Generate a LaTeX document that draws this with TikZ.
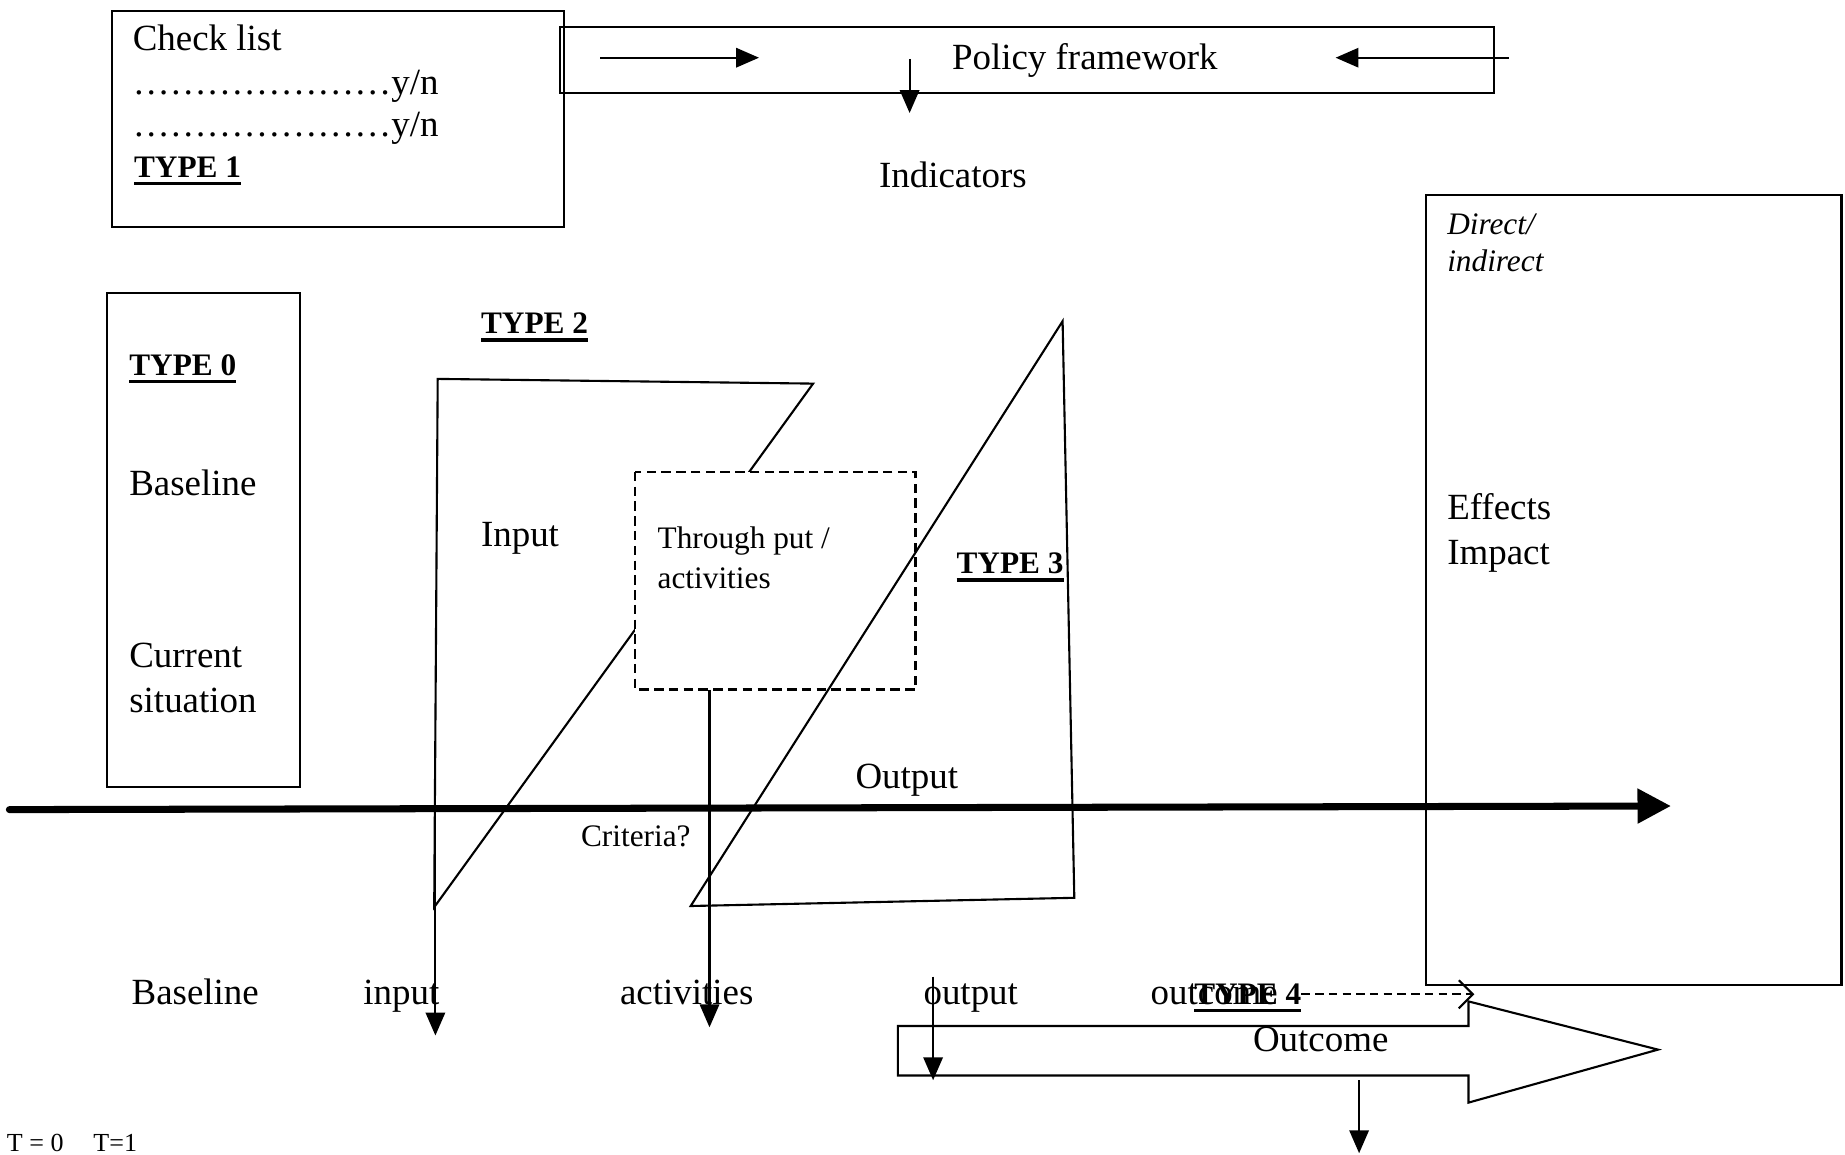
\documentclass[tikz,border=0pt]{standalone}
\usepackage{fontspec}
\setmainfont{Liberation Serif}
\usetikzlibrary{arrows.meta}
\newcommand\fmain{\fontsize{10.5}{12.7}\selectfont}
\newcommand\fsml{\fontsize{8.9}{10.5}\selectfont}
\newcommand\ftny{\fontsize{7.4}{9}\selectfont}
\newcommand\typelab[1]{\setbox0\hbox{\bfseries #1}\leavevmode\rlap{\rule[-2.4pt]{\wd0}{1.1pt}}\box0}
\begin{document}
\begin{tikzpicture}[x=0.01cm,y=-0.01cm,
  line width=0.6pt,
  box/.style={draw, line width=0.6pt},
  lbl/.style={inner sep=0pt, anchor=base west, font=\fmain},
  slbl/.style={inner sep=0pt, anchor=base west, font=\fsml},
  ilbl/.style={inner sep=0pt, anchor=base west, font=\fsml\itshape},
  tlbl/.style={inner sep=0pt, anchor=base west, font=\fsml},
  arr/.style={-{Triangle[length=6.5pt,width=5.5pt]}, line width=0.6pt},
  bigarr/.style={-{Triangle[length=9.5pt,width=9.5pt]}, line width=2pt, line cap=round},
  dasharr/.style={-{Straight Barb[length=4pt,width=8pt]}, line width=0.6pt, dash pattern=on 2.4pt off 1.5pt},
  dbox/.style={draw, fill=white, line width=0.6pt, dash pattern=on 2.7pt off 1.5pt}]
\useasboundingbox (0,0) rectangle (1845,1154);

% coordinates
\coordinate (cl1) at (111.8,10.6);   \coordinate (cl2) at (563.6,227.1);
\coordinate (pf1) at (560.1,27.1);   \coordinate (pf2) at (1494.4,93);
\coordinate (t01) at (107.1,293);    \coordinate (t02) at (300,787.2);
\coordinate (ef1) at (1426.2,195.3); \coordinate (ef2) at (1841.5,984.9);
\coordinate (db1) at (635.4,471.9);  \coordinate (db2) at (915.5,689.5);
\coordinate (p2a) at (437.7,378.9);  \coordinate (p2b) at (813.1,383.6);  \coordinate (p2c) at (434.2,907.2);
\coordinate (p3a) at (1062.6,321.2); \coordinate (p3b) at (1074.3,897.8); \coordinate (p3c) at (690.7,906);
\coordinate (ml1) at (9.4,809.6);    \coordinate (ml2) at (1670.9,806);
\coordinate (ra1) at (600.1,57.7);   \coordinate (ra2) at (759,57.7);
\coordinate (la1) at (1508.5,57.7);  \coordinate (la2) at (1335.6,57.7);
\coordinate (da1) at (909.6,58.8);   \coordinate (da2) at (909.6,113);
\coordinate (ia1) at (435.4,795.5);  \coordinate (ia2) at (435.4,1035.5);
\coordinate (aa2) at (709.5,1027.3);
\coordinate (oa1) at (933.1,976.7);  \coordinate (oa2) at (933.1,1080.2);
\coordinate (ua1) at (1359.1,1080.2);\coordinate (ua2) at (1359.1,1153.2);
\coordinate (dd1) at (1301.4,994.3); \coordinate (dd2) at (1474.4,994.3);

% boxes
\draw[box] (cl1) rectangle (cl2);
\draw[box] (pf1) rectangle (pf2);
\draw[box] (t01) rectangle (t02);
\draw[box] (ef1) rectangle (ef2);

% type 2 shape, through-put box, type 3 shape
\draw[line width=0.6pt, line join=miter] (p2a) -- (p2b) -- (p2c) -- cycle;
\draw[dbox] (db1) rectangle (db2);
\draw[line width=0.6pt, line join=miter] (p3a) -- (p3b) -- (p3c) -- cycle;

% main time line
\draw[bigarr] (ml1) -- (ml2);

% arrows
\draw[arr] (ra1) -- (ra2);
\draw[arr] (la1) -- (la2);
\draw[arr] (da1) -- (da2);
\draw[arr] (ia1) -- (ia2);
\draw[arr] (db2 -| aa2) -- (aa2);
\draw[arr] (oa1) -- (oa2);
\draw[arr] (ua1) -- (ua2);
\draw[dasharr] (dd1) -- (dd2);

% outcome block arrow
\draw[line width=0.6pt, line join=miter] (897.8,1026) -- (1468.5,1026) -- (1468.5,1001.4) -- (1658,1049.6)
  -- (1468.5,1102.6) -- (1468.5,1075.5) -- (897.8,1075.5) -- cycle;

% texts
\node[lbl] (t_check) at (131.8,50.8) {Check list};
\node[lbl] (t_yn1) at (131.8,94) {…………………y/n};
\node[lbl] (t_yn2) at (131.8,136) {…………………y/n};
\node[tlbl] (t_type1) at (133,177) {\typelab{TYPE 1}};
\node[lbl] (t_policy) at (951,69.5) {Policy framework};
\node[lbl] (t_ind) at (878,187) {Indicators};
\node[tlbl] (t_type0) at (128.3,375) {\typelab{TYPE 0}};
\node[lbl] (t_base0) at (128.3,495.6) {Baseline};
\node[lbl] (t_cur) at (128.3,667.4) {Current};
\node[lbl] (t_sit) at (128.3,712) {situation};
\node[tlbl] (t_type2) at (480,333.6) {\typelab{TYPE 2}};
\node[lbl] (t_input) at (480,546) {Input};
\node[slbl] (t_thr) at (656.6,548) {Through put /};
\node[slbl] (t_act) at (656.6,588) {activities};
\node[tlbl] (t_type3) at (955.5,573.6) {\typelab{TYPE 3}};
\node[ilbl] (t_dir) at (1446.2,234.7) {Direct/};
\node[ilbl] (t_indir) at (1446.2,271) {indirect};
\node[lbl] (t_eff) at (1446.2,519) {Effects};
\node[lbl] (t_imp) at (1446.2,564) {Impact};
\node[lbl] (t_output) at (854.5,788.6) {Output};
\node[slbl] (t_crit) at (580,846.6) {Criteria?};
\node[lbl] (b_base) at (130.6,1004) {Baseline};
\node[lbl] (b_input) at (362.4,1004) {input};
\node[lbl] (b_act) at (619,1004) {activities};
\node[lbl] (b_out) at (922.5,1004) {output};
\node[lbl] (b_outc) at (1149.6,1004) {outcome};
\node[tlbl] (t_type4) at (1193.2,1004) {\typelab{TYPE 4}};
\node[lbl] (t_outcome) at (1252,1051) {Outcome};
\node[inner sep=0pt, anchor=base west, font=\ftny] (t_time) at (5.9,1151.5) {T = 0\hspace{1.15em}T=1};
\end{tikzpicture}
\end{document}
